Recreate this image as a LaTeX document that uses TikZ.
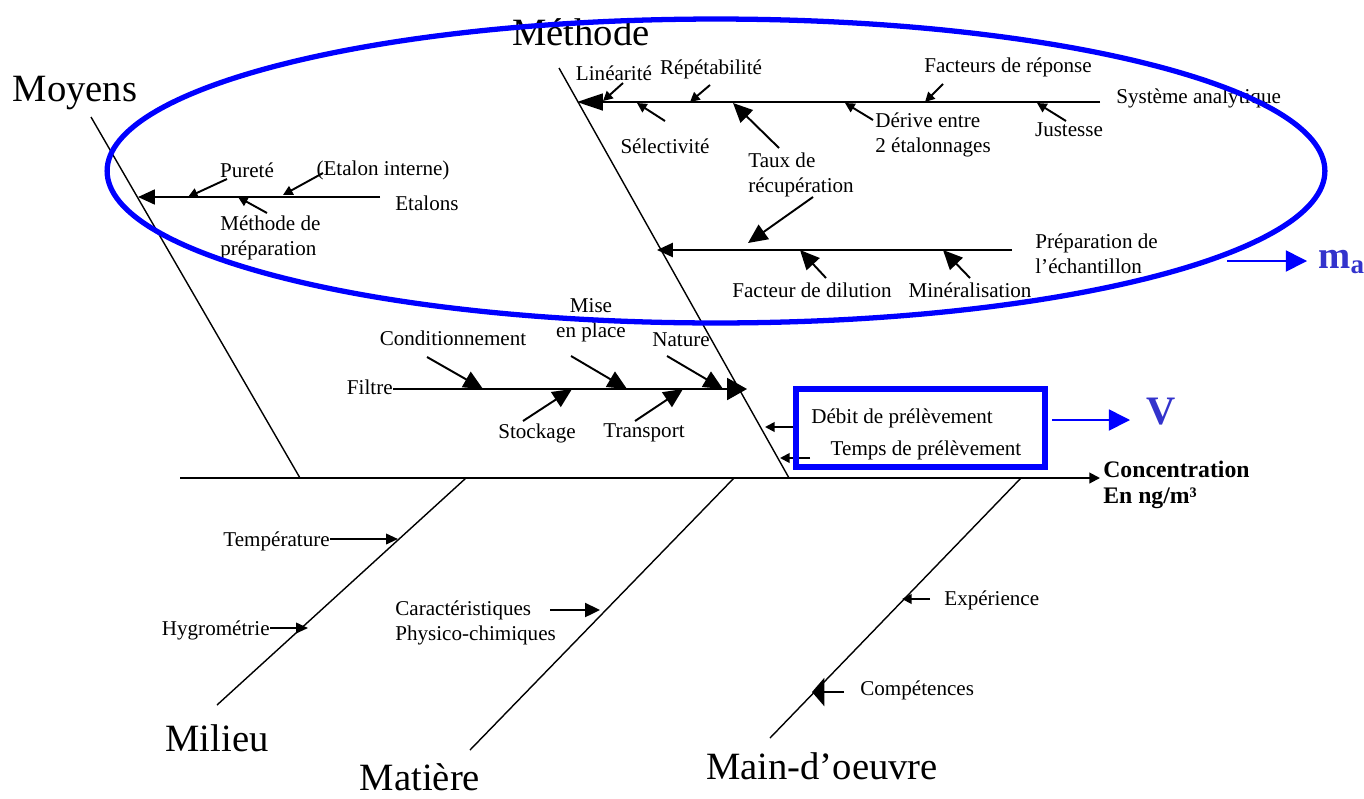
\documentclass[tikz,border=0pt]{standalone}
\usepackage{fontspec}
\setmainfont{Liberation Serif}
\usetikzlibrary{arrows.meta}
\definecolor{ringblue}{RGB}{0,0,255}
\definecolor{outblue}{RGB}{51,51,204}

\begin{document}
\begin{tikzpicture}[x=0.02cm, y=-0.02cm,
  lbl/.style={font=\fontsize{12}{14}\selectfont, inner sep=0pt, align=left},
  big/.style={font=\fontsize{22}{26}\selectfont, inner sep=0pt},
  bone/.style={line width=0.8pt},
  tip/.style={line width=1.1pt, -{Triangle[length=5.5pt,width=5.5pt]}},
  midtip/.style={line width=1.1pt, -{Triangle[length=11pt,width=10pt]}},
  feed/.style 2 args={line width=1.1pt, -{Triangle[length=#1,width=#2]}},
  outarrow/.style={ringblue, line width=0.9pt, -{Triangle[length=12pt,width=12pt]}}]

\useasboundingbox (0,0) rectangle (1364,798);

\coordinate (tail) at (180,478);
\coordinate (head) at (1100,478);
\coordinate (moyT) at (91,117);
\coordinate (moyB) at (300,478);
\coordinate (metT) at (559,68);
\coordinate (metB) at (789,478);
\coordinate (milT) at (466,478);
\coordinate (milB) at (217,705);
\coordinate (matT) at (734,478);
\coordinate (matB) at (470,750);
\coordinate (moeT) at (1021,478);
\coordinate (moeB) at (770,738);

\node[big] (moyens) at (75,93) {Moyens};
\node[big] (methode) at (581,32) {Méthode};
\node[big] (milieu) at (217,738) {Milieu};
\node[big] (matiere) at (420,777) {Matière};
\node[big] (mainoeuvre) at (822,766) {Main-d'oeuvre};
\node[lbl, font=\fontsize{13.5}{14.4}\selectfont\bfseries, anchor=west] (conc) at (1103,485) {Concentration\\En ng/m³};

\draw[feed={6pt}{6pt}] (tail) -- (head);
\draw[bone] (moyT) -- (moyB);
\draw[bone] (metT) -- (metB);
\draw[bone] (milT) -- (milB);
\draw[bone] (matT) -- (matB);
\draw[bone] (moeT) -- (moeB);

\node[lbl, anchor=west] (etalons) at (395,203) {Etalons};
\node[lbl] (purete) at (247,170) {Pureté};
\node[lbl] (interne) at (383,170) {(Etalon interne)};
\node[lbl, anchor=west] (prepmeth) at (220,238) {Méthode de\\préparation};
\coordinate (etalA) at (380,197);
\coordinate (etalB) at (138,197);
\coordinate (purA) at (227,179);
\coordinate (purB) at (188,197);
\coordinate (intA) at (323,173);
\coordinate (intB) at (283,195);
\coordinate (pmA) at (267,213);
\coordinate (pmB) at (238,197);
\draw[feed={9.6pt}{8.5pt}] (etalA) -- (etalB);
\draw[tip] (purA) -- (purB);
\draw[tip] (intA) -- (intB);
\draw[tip] (pmA) -- (pmB);

\node[lbl, anchor=west] (systeme) at (1116,98) {Système analytique};
\node[lbl] (linearite) at (614,73) {Linéarité};
\node[lbl] (repet) at (711,69) {Répétabilité};
\node[lbl] (select) at (665,146) {Sélectivité};
\node[lbl, anchor=west] (taux) at (748,175) {Taux de\\récupération};
\node[lbl, anchor=west] (derive) at (875,135) {Dérive entre\\2 étalonnages};
\node[lbl] (facteurs) at (1008,67) {Facteurs de réponse};
\node[lbl] (justesse) at (1069,130) {Justesse};
\coordinate (sysA) at (1100,102);
\coordinate (sysB) at (577,102);
\coordinate (linA) at (623,83);
\coordinate (linB) at (603,101);
\coordinate (repA) at (710,85);
\coordinate (repB) at (690,102);
\coordinate (selA) at (665,121);
\coordinate (selB) at (637,103);
\coordinate (tauA) at (779,148);
\coordinate (tauB) at (733,103);
\coordinate (derA) at (873,120);
\coordinate (derB) at (845,103);
\coordinate (facA) at (943,84);
\coordinate (facB) at (925,102);
\coordinate (jusA) at (1066,121);
\coordinate (jusB) at (1037,103);
\draw[feed={14.7pt}{9.6pt}] (sysA) -- (sysB);
\draw[tip] (linA) -- (linB);
\draw[tip] (repA) -- (repB);
\draw[tip] (selA) -- (selB);
\draw[midtip] (tauA) -- (tauB);
\draw[tip] (derA) -- (derB);
\draw[tip] (facA) -- (facB);
\draw[tip] (jusA) -- (jusB);

\node[lbl, anchor=west] (prepech) at (1035,254) {Préparation de\\l'échantillon};
\node[lbl] (dilution) at (812,290) {Facteur de dilution};
\node[lbl] (mineral) at (970,290) {Minéralisation};
\coordinate (prepA) at (1012,250);
\coordinate (prepB) at (657,250);
\coordinate (tau2A) at (813,197);
\coordinate (tau2B) at (748,243);
\coordinate (dilA) at (826,278);
\coordinate (dilB) at (800,250);
\coordinate (minA) at (970,278);
\coordinate (minB) at (943,250);
\draw[feed={9pt}{8pt}] (prepA) -- (prepB);
\draw[midtip] (tau2A) -- (tau2B);
\draw[midtip] (dilA) -- (dilB);
\draw[midtip] (minA) -- (minB);

\node[lbl, anchor=east] (filtre) at (393,387) {Filtre};
\node[lbl] (condit) at (453,338) {Conditionnement};
\node[lbl, align=center] (miseplace) at (591,320) {Mise\\en place};
\node[lbl] (nature) at (681,340) {Nature};
\node[lbl] (stockage) at (537,433) {Stockage};
\node[lbl] (transport) at (644,433) {Transport};
\coordinate (filA) at (393,389);
\coordinate (filB) at (747,389);
\coordinate (conA) at (427,357);
\coordinate (conB) at (483,389);
\coordinate (misA) at (571,356);
\coordinate (misB) at (627,389);
\coordinate (natA) at (667,356);
\coordinate (natB) at (723,389);
\coordinate (stoA) at (523,421);
\coordinate (stoB) at (572,389);
\coordinate (traA) at (635,421);
\coordinate (traB) at (683,389);
\draw[feed={11.3pt}{12.5pt}] (filA) -- (filB);
\draw[midtip] (conA) -- (conB);
\draw[midtip] (misA) -- (misB);
\draw[midtip] (natA) -- (natB);
\draw[midtip] (stoA) -- (stoB);
\draw[midtip] (traA) -- (traB);

\coordinate (debA) at (797,427);
\coordinate (debB) at (765,427);
\coordinate (temA) at (810,458);
\coordinate (temB) at (780,458);
\draw[tip] (debA) -- (debB);
\draw[tip] (temA) -- (temB);
\node[draw=ringblue, line width=3pt, minimum width=4.98cm, minimum height=1.56cm, inner sep=0pt] (box) at (920.5,428) {};
\node[lbl] (debit) at (902,418) {Débit de prélèvement};
\node[lbl] (temps) at (926,450) {Temps de prélèvement};
\node[font=\fontsize{23}{26}\selectfont\bfseries, text=outblue, inner sep=0pt] (vol) at (1161,412) {V};
\coordinate (volA) at (1052,420);
\coordinate (volB) at (1130,420);
\draw[outarrow] (volA) -- (volB);

\node[lbl, anchor=east] (temp) at (330,541) {Température};
\node[lbl, anchor=east] (hygro) at (270,630) {Hygrométrie};
\node[lbl, anchor=west] (caract) at (395,623) {Caractéristiques\\Physico-chimiques};
\node[lbl, anchor=west] (exper) at (944,600) {Expérience};
\node[lbl, anchor=west] (compet) at (860,690) {Compétences};
\coordinate (tmpA) at (330,539);
\coordinate (tmpB) at (398,539);
\coordinate (hygA) at (270,628);
\coordinate (hygB) at (308,628);
\coordinate (carA) at (550,610);
\coordinate (carB) at (600,610);
\coordinate (expA) at (930,599);
\coordinate (expB) at (902,599);
\coordinate (comA) at (844,692);
\coordinate (comB) at (812,692);
\draw[feed={6.8pt}{6pt}] (tmpA) -- (tmpB);
\draw[feed={6.8pt}{6pt}] (hygA) -- (hygB);
\draw[feed={8.5pt}{8pt}] (carA) -- (carB);
\draw[tip] (expA) -- (expB);
\draw[feed={7pt}{16pt}] (comA) -- (comB);

\coordinate (ring) at (716,171);
\draw[ringblue, line width=3pt] (ring) ellipse [x radius=12.18cm, y radius=3.04cm];
\coordinate (maA) at (1227,261);
\coordinate (maB) at (1307,261);
\draw[outarrow] (maA) -- (maB);
\node[font=\fontsize{22}{26}\selectfont\bfseries, text=outblue, inner sep=0pt, anchor=west] (mass) at (1318,262) {m\textsubscript{a}};
\end{tikzpicture}
\end{document}
